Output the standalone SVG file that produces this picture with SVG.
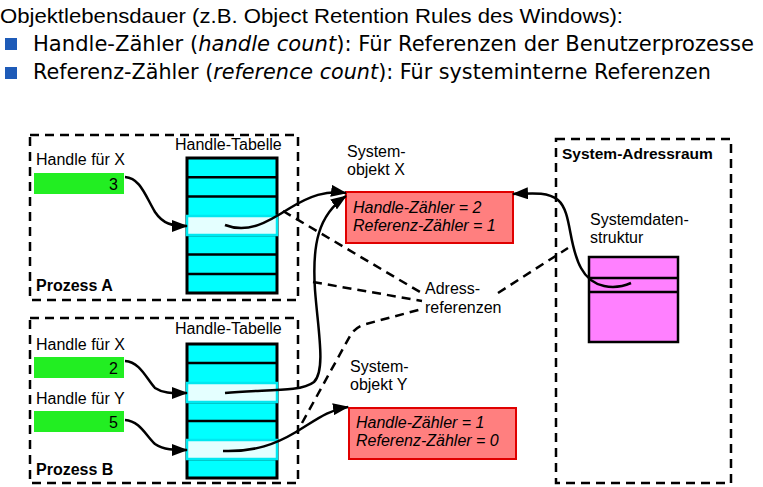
<svg xmlns="http://www.w3.org/2000/svg" width="763" height="487" viewBox="0 0 763 487">
<style>
text{font-family:"Liberation Sans",Arial,sans-serif;font-size:16px;fill:#000}
.hdr{font-family:"DejaVu Sans",Verdana,sans-serif;font-size:21.5px}
.b{font-weight:bold}
.i{font-style:italic}
.box{fill:none;stroke:#000;stroke-width:2.5;stroke-dasharray:9 6}
.tbl{fill:#00FFFF;stroke:#000;stroke-width:3}
.row{stroke:#000;stroke-width:2.5}
.hl{fill:#E4FFFF;stroke:#00E8F0;stroke-width:2.5}
.grn{fill:#22EE22}
.obj{fill:#FF7F7F;stroke:#E00000;stroke-width:2}
.con{fill:none;stroke:#000;stroke-width:2.5}
.dash{fill:none;stroke:#000;stroke-width:2.5;stroke-dasharray:9 6}
.bul{fill:#1E5BB8}
</style>
<defs>
<marker id="ah" markerUnits="userSpaceOnUse" markerWidth="16" markerHeight="12" refX="15" refY="6" orient="auto">
<path d="M0,0 L16,6 L0,12 Z" fill="#000"/>
</marker>
</defs>

<g id="header">
<text x="0" y="23" style="font-size:21px" textLength="623" lengthAdjust="spacingAndGlyphs">Objektlebensdauer (z.B. Object Retention Rules des Windows):</text>
<rect class="bul" x="5" y="38" width="12" height="12"/>
<text class="hdr" x="33" y="51" textLength="721" lengthAdjust="spacingAndGlyphs">Handle-Zähler (<tspan font-style="italic">handle count</tspan>): Für Referenzen der Benutzerprozesse</text>
<rect class="bul" x="5" y="67" width="12" height="12"/>
<text class="hdr" x="33" y="79" textLength="678" lengthAdjust="spacingAndGlyphs">Referenz-Zähler (<tspan font-style="italic">reference count</tspan>): Für systeminterne Referenzen</text>
</g>

<g id="prozessA">
<rect class="box" x="30" y="135" width="268" height="165"/>
<text class="b" x="36" y="291">Prozess A</text>
<text x="36" y="165">Handle für X</text>
<rect class="grn" x="34" y="173" width="90" height="21"/>
<text x="118" y="190" text-anchor="end">3</text>
<text x="175" y="150">Handle-Tabelle</text>
<g id="tabelleA">
<rect class="tbl" x="187" y="158" width="90" height="135"/>
<line class="row" x1="187" y1="177.3" x2="277" y2="177.3"/>
<line class="row" x1="187" y1="196.6" x2="277" y2="196.6"/>
<line class="row" x1="187" y1="235" x2="277" y2="235"/>
<line class="row" x1="187" y1="254.5" x2="277" y2="254.5"/>
<line class="row" x1="187" y1="274" x2="277" y2="274"/>
<rect class="hl" x="187" y="216" width="90" height="19"/>
</g>
</g>

<g id="prozessB">
<rect class="box" x="30" y="318" width="268" height="165"/>
<text class="b" x="36" y="475">Prozess B</text>
<text x="36" y="350">Handle für X</text>
<rect class="grn" x="34" y="357" width="90" height="21"/>
<text x="118" y="374" text-anchor="end">2</text>
<text x="36" y="404">Handle für Y</text>
<rect class="grn" x="34" y="411" width="90" height="21"/>
<text x="118" y="428" text-anchor="end">5</text>
<text x="175" y="334">Handle-Tabelle</text>
<g id="tabelleB">
<rect class="tbl" x="187" y="344" width="90" height="134"/>
<line class="row" x1="187" y1="363" x2="277" y2="363"/>
<line class="row" x1="187" y1="402" x2="277" y2="402"/>
<line class="row" x1="187" y1="421" x2="277" y2="421"/>
<line class="row" x1="187" y1="459" x2="277" y2="459"/>
<rect class="hl" x="187" y="383" width="90" height="19"/>
<rect class="hl" x="187" y="440" width="90" height="19"/>
</g>
</g>

<g id="systemobjektX">
<text x="347" y="157">System-</text>
<text x="347" y="175">objekt X</text>
<rect class="obj" x="346" y="192" width="167" height="51"/>
<text class="i" x="353" y="213">Handle-Zähler = 2</text>
<text class="i" x="353" y="231">Referenz-Zähler = 1</text>
</g>

<g id="systemobjektY">
<text x="350" y="372">System-</text>
<text x="350" y="390">objekt Y</text>
<rect class="obj" x="349" y="408" width="167" height="51"/>
<text class="i" x="356" y="428">Handle-Zähler = 1</text>
<text class="i" x="356" y="446">Referenz-Zähler = 0</text>
</g>

<g id="adressreferenzen">
<text x="425" y="294">Adress-</text>
<text x="425" y="313">referenzen</text>
</g>

<g id="systemAdressraum">
<rect class="box" x="556" y="139" width="175" height="344"/>
<text class="b" x="562" y="159" style="font-size:15.5px">System-Adressraum</text>
<text x="590" y="225">Systemdaten-</text>
<text x="590" y="243">struktur</text>
<g id="systemdatenstruktur">
<rect x="589" y="257" width="89" height="85" fill="#FF80FF" stroke="#000" stroke-width="2.5"/>
<line class="row" x1="589" y1="278" x2="678" y2="278"/>
<line class="row" x1="589" y1="292" x2="678" y2="292"/>
</g>
</g>

<g id="connectors">
<path class="con" d="M125,177 C140,178 145,195 155,212 C163,224 172,226 187,226" marker-end="url(#ah)"/>
<path class="con" d="M125,361 C140,362 146,378 155,388 C164,394 174,393 187,393" marker-end="url(#ah)"/>
<path class="con" d="M125,420 C140,421 146,436 155,444 C164,450 174,450 187,450" marker-end="url(#ah)"/>
<path class="con" d="M225,225 C248,234 268,222 290,208 C310,196 326,190 346,193" marker-end="url(#ah)"/>
<path class="con" d="M225,393 C262,389 300,393 314,382 C326,370 318,330 315,290 C312,245 318,215 346,196" marker-end="url(#ah)"/>
<path class="con" d="M223,451 C255,452 276,444 296,432 C316,420 328,410 348,407" marker-end="url(#ah)"/>
<path class="con" d="M631,283 C615,290 592,289 581,268 C568,245 572,212 558,200 C548,192 535,193 513,194" marker-end="url(#ah)"/>
<path class="dash" d="M283,211 L420,292"/>
<path class="dash" d="M313,282 L422,301"/>
<path class="dash" d="M302,423 L350,336 Q355,327 366,324 L422,309"/>
<path class="dash" d="M498,293 L568,248"/>
</g>
</svg>
